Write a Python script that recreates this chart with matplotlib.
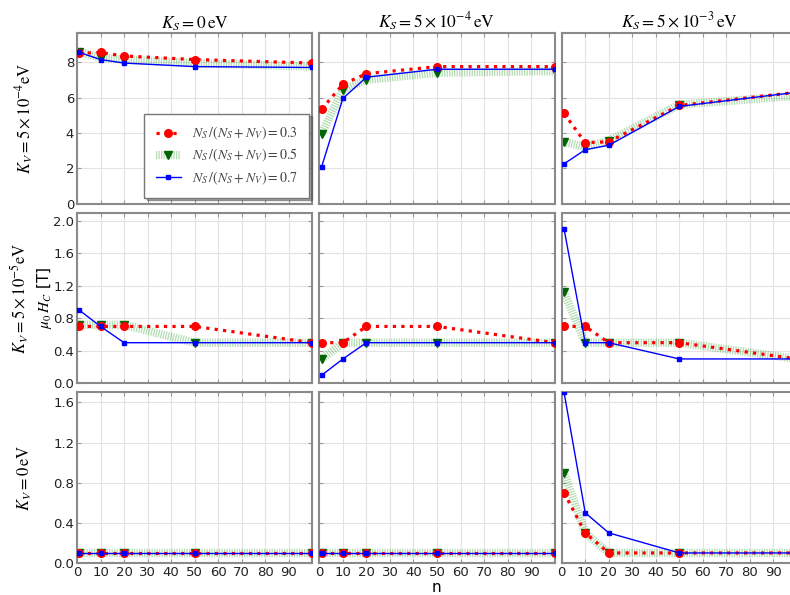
import numpy as np
import matplotlib
matplotlib.use('Agg')
import matplotlib.pyplot as plt

plt.rcParams['mathtext.fontset'] = 'stix'

n = [1, 10, 20, 50, 100]

# values per row (K_V) and column (K_S)
red = [[[8.5, 8.55, 8.35, 8.15, 7.95], [5.35, 6.75, 7.35, 7.75, 7.75], [5.1, 3.45, 3.5, 5.55, 6.3]],
       [[0.7, 0.7, 0.7, 0.7, 0.5], [0.5, 0.5, 0.7, 0.7, 0.5], [0.7, 0.7, 0.5, 0.5, 0.3]],
       [[0.1, 0.1, 0.1, 0.1, 0.1], [0.1, 0.1, 0.1, 0.1, 0.1], [0.7, 0.3, 0.1, 0.1, 0.1]]]
green = [[[8.6, 8.25, 8.15, 7.95, 7.75], [3.95, 6.45, 7.0, 7.4, 7.5], [3.5, 3.2, 3.55, 5.6, 6.1]],
         [[0.72, 0.72, 0.72, 0.5, 0.5], [0.3, 0.5, 0.5, 0.5, 0.5], [1.12, 0.5, 0.5, 0.5, 0.3]],
         [[0.1, 0.1, 0.1, 0.1, 0.1], [0.1, 0.1, 0.1, 0.1, 0.1], [0.9, 0.3, 0.1, 0.1, 0.1]]]
blue = [[[8.55, 8.15, 7.95, 7.75, 7.7], [2.1, 5.95, 7.15, 7.6, 7.6], [2.25, 3.05, 3.3, 5.5, 6.3]],
        [[0.9, 0.7, 0.5, 0.5, 0.5], [0.1, 0.3, 0.5, 0.5, 0.5], [1.9, 0.5, 0.5, 0.3, 0.3]],
        [[0.1, 0.1, 0.1, 0.1, 0.1], [0.1, 0.1, 0.1, 0.1, 0.1], [1.7, 0.5, 0.3, 0.1, 0.1]]]

col_titles = [r'$K_S = 0\,\mathrm{eV}$', r'$K_S = 5\times10^{-4}\,\mathrm{eV}$',
              r'$K_S = 5\times10^{-3}\,\mathrm{eV}$']
row_labels = [r'$K_V = 5\times10^{-4}\mathrm{eV}$', r'$K_V = 5\times10^{-5}\mathrm{eV}$',
              r'$K_V = 0\,\mathrm{eV}$']
ylims = [9.65, 2.1, 1.7]
yticks = [[0, 2, 4, 6, 8], [0.0, 0.4, 0.8, 1.2, 1.6, 2.0], [0.0, 0.4, 0.8, 1.2, 1.6]]
ytick_fmt = ['%d', '%.1f', '%.1f']
labels = [r'$N_S\,/(N_S+N_V) = 0.3$', r'$N_S\,/(N_S+N_V) = 0.5$', r'$N_S\,/(N_S+N_V) = 0.7$']

fig, axes = plt.subplots(3, 3, figsize=(7.9, 5.95), dpi=100, sharex=True, sharey='row')
fig.subplots_adjust(left=77/790, right=797/790, top=1-33/595, bottom=1-563/595,
                    wspace=0.03, hspace=0.053)

for i in range(3):
    for j in range(3):
        ax = axes[i, j]
        ax.plot(n, red[i][j], color='red', ls=':', lw=2.3, marker='o', ms=5.5,
                label=labels[0], zorder=3)
        ax.plot(n, green[i][j], color=(0, 0.55, 0, 0.3), ls=(0, (0.15, 0.15)), lw=6,
                marker='v', ms=5.5, mfc='darkgreen', mec='darkgreen', label=labels[1], zorder=2)
        ax.plot(n, blue[i][j], color='blue', lw=1, marker='s', ms=2.8,
                label=labels[2], zorder=4)
        ax.set_xlim(0, 100)
        ax.set_ylim(0, ylims[i])
        ax.set_xticks(range(0, 100, 10))
        ax.set_yticks(yticks[i])
        ax.grid(True, color='#e3e3e3', lw=0.8)
        ax.set_axisbelow(True)
        ax.tick_params(direction='in', length=3, top=True, right=True, pad=2,
                       labelsize=9.5, labelcolor='#222222', color='#999999')
        for s in ax.spines.values():
            s.set_color('#8a8a8a')
            s.set_linewidth(1.5)
        if i == 0:
            ax.set_title(col_titles[j], fontsize=12.5, pad=1.5)
    axes[i, 0].yaxis.set_major_formatter(matplotlib.ticker.FormatStrFormatter(ytick_fmt[i]))

fig.text(25/790, 1-118/595, row_labels[0], rotation=90, ha='center', va='center', fontsize=12)
fig.text(20/790, 1-298/595, row_labels[1], rotation=90, ha='center', va='center', fontsize=12)
fig.text(44/790, 1-298/595, r'$\mu_0\,H_C$ [T]', rotation=90, ha='center', va='center', fontsize=11)
fig.text(25/790, 1-478/595, row_labels[2], rotation=90, ha='center', va='center', fontsize=12)
fig.text(436/790, 1-587/595, 'n', ha='center', va='center', fontsize=11)

leg = axes[0, 0].legend(loc='lower right', bbox_to_anchor=(0.985, 0.035), fontsize=10,
                        fancybox=False, shadow=True, edgecolor='#777777', framealpha=1,
                        handlelength=1.8, borderpad=0.8, labelspacing=0.35,
                        borderaxespad=0)
for t in leg.get_texts():
    t.set_color('#444444')

plt.savefig('out.png', dpi=100)
